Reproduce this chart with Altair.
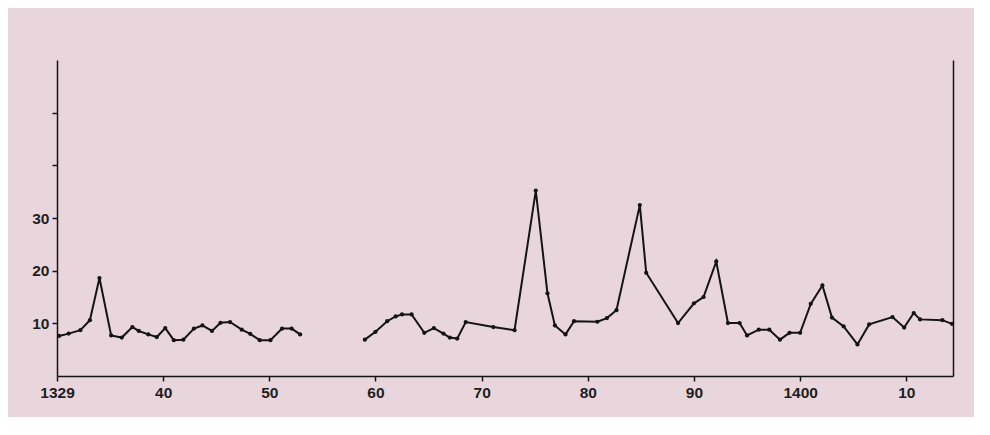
import altair as alt
import pandas as pd

# Segment before the gap
years_a = [1330.2, 1331.1, 1332.2, 1333.1, 1334.0, 1335.1, 1336.1, 1337.1, 1337.7, 1338.6,
           1339.4, 1340.2, 1341.0, 1341.9, 1342.9, 1343.7, 1344.6, 1345.4, 1346.3, 1347.4,
           1348.2, 1349.1, 1350.1, 1351.2, 1352.1, 1352.9]
vals_a = [7.6, 8.05, 8.7, 10.6, 18.6, 7.7, 7.3, 9.3, 8.55, 7.9,
          7.4, 9.1, 6.8, 6.9, 9.0, 9.6, 8.55, 10.1, 10.25, 8.8,
          8.0, 6.8, 6.8, 9.0, 9.0, 7.9]

# Segment after the gap
years_b = [1359.0, 1360.0, 1361.1, 1361.9, 1362.5, 1363.4, 1364.6, 1365.5, 1366.4, 1367.0,
           1367.7, 1368.5, 1371.1, 1373.1, 1375.1, 1376.2, 1376.9, 1377.9, 1378.7, 1380.9,
           1381.8, 1382.7, 1384.9, 1385.5, 1388.5, 1390.0, 1390.9, 1392.1, 1393.2, 1394.3,
           1395.0, 1396.1, 1397.1, 1398.1, 1399.0, 1400.0, 1401.0, 1402.1, 1403.0, 1404.1,
           1405.4, 1406.5, 1408.7, 1409.8, 1410.7, 1411.3, 1413.4, 1414.3]
vals_b = [6.9, 8.4, 10.4, 11.3, 11.7, 11.7, 8.2, 9.1, 8.05, 7.3,
          7.1, 10.25, 9.3, 8.7, 35.2, 15.7, 9.6, 7.9, 10.4, 10.3,
          11.0, 12.5, 32.45, 19.6, 10.06, 13.8, 15.0, 21.75, 10.06, 10.06,
          7.7, 8.8, 8.8, 6.9, 8.2, 8.2, 13.7, 17.2, 11.1, 9.4,
          6.0, 9.8, 11.2, 9.2, 11.95, 10.75, 10.6, 9.9]

x_ticks = [1330, 1340, 1350, 1360, 1370, 1380, 1390, 1400, 1410]
y_ticks = [10, 20, 30, 40, 50]
x_domain = [1330, 1414.4]
y_domain = [0, 60]

df = pd.DataFrame({
    "year": years_a + years_b,
    "value": vals_a + vals_b,
    "seg": ["a"] * len(years_a) + ["b"] * len(years_b),
})

FONT = "Liberation Sans"
INK = "#141414"
xscale = alt.Scale(domain=x_domain, nice=False, zero=False)
yscale = alt.Scale(domain=y_domain, nice=False)

x_enc = alt.X(
    "year:Q",
    scale=xscale,
    axis=alt.Axis(
        values=x_ticks, ticks=True, tickSize=5, tickColor=INK, tickWidth=1.5,
        grid=False, title=None, labelFlush=False,
        labelExpr="datum.value == 1330 ? '1329' : (datum.value == 1400 ? '1400' : slice(toString(datum.value), 2))",
        labelPadding=4, labelFontSize=15.5, labelFontWeight="bold", labelColor="#1e1e1e",
        labelFont=FONT, domainColor=INK, domainWidth=1.5,
    ),
)
y_left = alt.Y(
    "value:Q",
    scale=yscale,
    axis=alt.Axis(
        values=y_ticks, grid=False, title=None, tickSize=5, tickColor=INK, tickWidth=1.5,
        labelExpr="datum.value <= 30 ? datum.value : ''",
        labelPadding=3, labelFontSize=15.5, labelFontWeight="bold", labelColor="#1e1e1e",
        labelFont=FONT, domainColor=INK, domainWidth=1.5,
        minExtent=30, maxExtent=30,
    ),
)
y_right = alt.Y(
    "value:Q",
    scale=yscale,
    axis=alt.Axis(orient="right", labels=False, ticks=False, grid=False, title=None,
                  domainColor=INK, domainWidth=1.5, minExtent=0, maxExtent=0),
)

line = alt.Chart(df).mark_line(color=INK, strokeWidth=2).encode(
    x=x_enc, y=y_left, detail="seg:N", order="year:Q"
)
pts = alt.Chart(df).mark_point(filled=True, color=INK, size=18, opacity=1).encode(
    x=alt.X("year:Q", scale=xscale),
    y=y_right,
)

chart = alt.layer(line, pts).resolve_scale(y="independent").properties(
    width=896, height=316,
    padding={"left": 19, "top": 52, "right": 18, "bottom": 16},
    background="#e9d6dd",
).configure_view(stroke=None)

chart.save("out.html", embed_options={"renderer": "svg", "actions": False})
